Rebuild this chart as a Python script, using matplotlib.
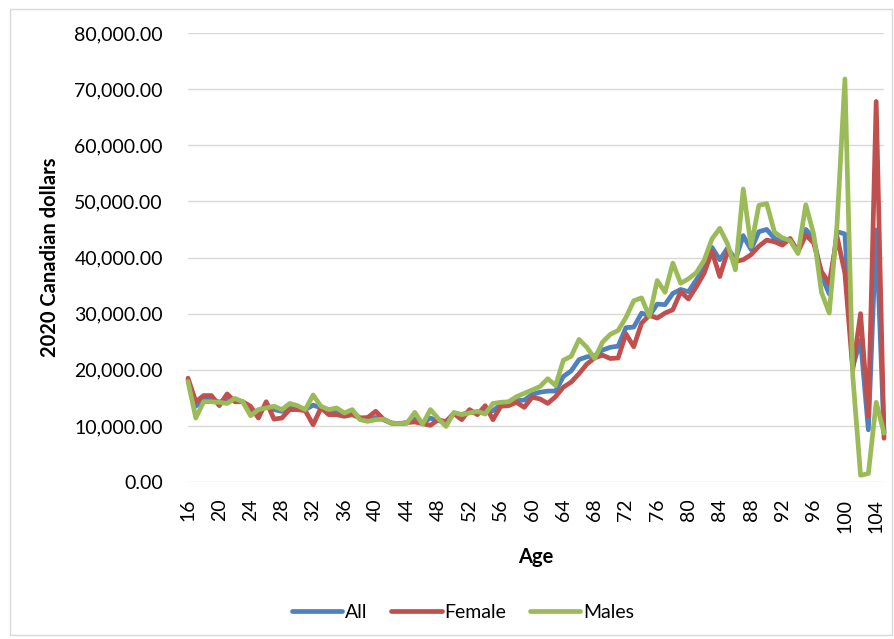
import matplotlib
matplotlib.use("Agg")
import matplotlib.pyplot as plt
from matplotlib.patches import Rectangle
from matplotlib.ticker import FuncFormatter

ages = list(range(16, 106))

all_vals = [
    18200, 13500, 14800, 14800, 14200, 14800, 14600, 14300, 12700, 12600,  # 16-25
    13500, 12900, 12600, 13300, 13200, 12900, 13700, 13200, 12600, 12700,  # 26-35
    12100, 12400, 11400, 11100, 11500, 11100, 10500, 10400, 10500, 11200,  # 36-45
    10500, 11400, 10900, 10800, 12200, 12000, 12500, 12300, 12400, 12700,  # 46-55
    13800, 13900, 14500, 14600, 15600, 16000, 16200, 16200, 18800, 19800,  # 56-65
    21800, 22300, 22500, 23500, 24000, 24200, 27500, 27600, 30100, 29600,  # 66-75
    31700, 31600, 33600, 34300, 33900, 36000, 38100, 41800, 39600, 41700,  # 76-85
    39600, 43900, 41400, 44600, 45000, 43400, 42800, 43100, 41200, 45000,  # 86-95
    43500, 36800, 33500, 44600, 44200, 20500, 25300, 9300, 44900, 8700,    # 96-105
]

female_vals = [
    18500, 14300, 15400, 15400, 13600, 15700, 14300, 14300, 13500, 11400,
    14300, 11200, 11400, 12900, 12900, 12700, 10200, 13200, 12000, 12000,
    11700, 12000, 11400, 11500, 12600, 11200, 10500, 10400, 10600, 10700,
    10400, 10100, 11100, 10700, 12200, 11100, 12900, 12000, 13600, 11100,
    13500, 13600, 14200, 13300, 15100, 14800, 14000, 15200, 16900, 17800,
    19300, 21000, 22100, 22600, 22000, 22100, 26400, 24100, 28300, 29700,
    29200, 30100, 30700, 33900, 32600, 34800, 37200, 41100, 36600, 41100,
    39300, 39600, 40500, 42000, 43100, 42800, 42200, 43400, 41000, 44000,
    42600, 37500, 35400, 43700, 37200, 20000, 30000, 11700, 67800, 7800,
]

males_vals = [
    17900, 11400, 14300, 14300, 14200, 14000, 14900, 14300, 11800, 12900,
    13200, 13500, 12900, 14000, 13600, 12900, 15500, 13500, 12900, 13200,
    12300, 12900, 11100, 10800, 11100, 11200, 10500, 10400, 10500, 12400,
    10300, 12900, 11300, 9900, 12400, 12000, 12300, 12600, 12100, 14000,
    14200, 14300, 15200, 15800, 16400, 17000, 18400, 17200, 21700, 22400,
    25400, 24000, 22000, 24900, 26300, 27000, 29300, 32300, 32800, 29500,
    35900, 33800, 39000, 35400, 36200, 37300, 39500, 43300, 45200, 42400,
    37800, 52200, 42000, 49300, 49600, 44500, 43500, 43000, 40700, 49400,
    44200, 33800, 30100, 46000, 71800, 19000, 1200, 1500, 14200, 8700,
]

series_names = ["All", "Female", "Males"]
colors = ["#4F81BD", "#C0504D", "#9BBB59"]

plt.rcParams['font.family'] = ['Lato', 'DejaVu Sans']

fig = plt.figure(figsize=(8.95, 6.39), dpi=100)
fig.patches.append(Rectangle((10/895, 1 - 635/639), 882/895, 626/639,
                             transform=fig.transFigure, fill=False,
                             edgecolor="#D9D9D9", linewidth=1.0))

ax = fig.add_axes([188/895, 1 - 482/639, (884 - 188)/895, (482 - 33)/639])
x = list(range(len(ages)))
for vals, name, c in zip([all_vals, female_vals, males_vals], series_names, colors):
    ax.plot(x, vals, color=c, linewidth=3.4, label=name, clip_on=False,
            solid_joinstyle='round', solid_capstyle='round')

ax.set_xlim(0, len(ages) - 1)
ax.set_ylim(0, 80000)
ax.set_yticks(range(0, 80001, 10000))
ax.yaxis.set_major_formatter(FuncFormatter(lambda v, p: f"{v:,.2f}"))
ax.set_xticks(x[::4])
ax.set_xticklabels([str(a) for a in ages[::4]], rotation=90)
ax.tick_params(axis='both', length=0, labelsize=14, colors="#000000")
ax.tick_params(axis='y', pad=18)
ax.tick_params(axis='x', pad=12)
ax.grid(axis='y', color="#D9D9D9", linewidth=1.0)
ax.set_axisbelow(True)
for s in ax.spines.values():
    s.set_visible(False)

ax.set_ylabel("2020 Canadian dollars", fontsize=14.5, fontweight='bold', labelpad=10)
ax.set_xlabel("Age", fontsize=14.5, fontweight='bold', labelpad=10)

leg = fig.legend(loc='center', bbox_to_anchor=(463/895, 1 - 612/639), ncol=3,
                 frameon=False, fontsize=14, handlelength=2.6, handletextpad=0.15,
                 columnspacing=1.2)

fig.savefig("out.png", dpi=100)
